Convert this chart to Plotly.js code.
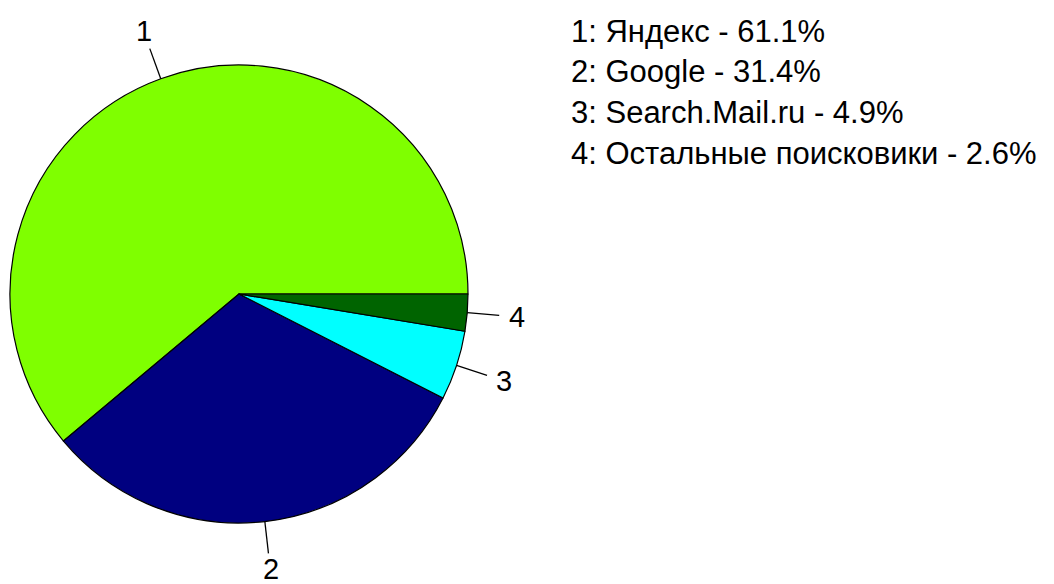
<!DOCTYPE html>
<html>
<head>
<meta charset="utf-8">
<script src="https://cdn.plot.ly/plotly-3.0.1.min.js"></script>
<style>html,body{margin:0;padding:0;background:#fff;}#chart{width:1054px;height:584px;}</style>
</head>
<body>
<div id="chart"></div>
<script>
// Data
const sliceIds = ["1", "2", "3", "4"];
const engines = ["Яндекс", "Google", "Search.Mail.ru", "Остальные поисковики"];
const shares = [61.1, 31.4, 4.9, 2.6];
const colors = ["#7FFF00", "#000080", "#00FFFF", "#006400"];

// Layout geometry (pixels)
const W = 1054, H = 584;
const cx = 239, cy = 294, R = 229;
const fontFam = "Liberation Sans, Arial, sans-serif";

const total = shares.reduce((a, b) => a + b, 0);
const shapes = [];
const annotations = [];
let cum = 0;
shares.forEach((v, i) => {
  const mid = (cum + v / 2) / total * 2 * Math.PI;
  cum += v;
  const c = Math.cos(mid), s = Math.sin(mid);
  const px = r => cx + c * r * R;
  const py = r => cy - s * r * R;
  shapes.push({
    type: "line", xref: "paper", yref: "paper",
    x0: px(1.0) / W, y0: 1 - py(1.0) / H,
    x1: px(1.14) / W, y1: 1 - py(1.14) / H,
    line: {color: "#000", width: 1.3}
  });
  const ly = Math.min(Math.max(py(1.22), 16), H - 15.5);
  annotations.push({
    xref: "paper", yref: "paper",
    x: px(1.22) / W, y: 1 - ly / H,
    xanchor: "center", yanchor: "middle",
    height: 24, valign: "middle", borderpad: 0,
    text: sliceIds[i], showarrow: false,
    font: {family: fontFam, size: 29, color: "#000"}
  });
});

// legend-like text block
const legendX = 569, legendY0 = 31, legendStep = 40.7;
engines.forEach((name, i) => {
  annotations.push({
    xref: "paper", yref: "paper",
    x: legendX / W, y: 1 - (legendY0 + i * legendStep) / H,
    xanchor: "left", yanchor: "middle",
    text: sliceIds[i] + ": " + name + " - " + shares[i].toFixed(1) + "%",
    showarrow: false,
    font: {family: fontFam, size: 31, color: "#000"}
  });
});

const trace = {
  type: "pie",
  values: shares,
  labels: engines,
  sort: false,
  direction: "counterclockwise",
  // Plotly places slice 1 clockwise of the rotation point when counterclockwise;
  // shift so slice 1 starts at 3 o'clock and runs counterclockwise.
  rotation: 90 - 360 * shares[0] / total,
  textinfo: "none",
  textposition: "none",
  hoverinfo: "label+percent",
  marker: {colors: colors, line: {color: "#000", width: 1.2}},
  domain: {
    x: [(cx - R) / W, (cx + R) / W],
    y: [1 - (cy + R) / H, 1 - (cy - R) / H]
  },
  showlegend: false
};

const layout = {
  width: W, height: H,
  margin: {l: 0, r: 0, t: 0, b: 0},
  paper_bgcolor: "#fff",
  showlegend: false,
  shapes: shapes,
  annotations: annotations
};

Plotly.newPlot("chart", [trace], layout, {displayModeBar: false, staticPlot: true});
</script>
</body>
</html>
